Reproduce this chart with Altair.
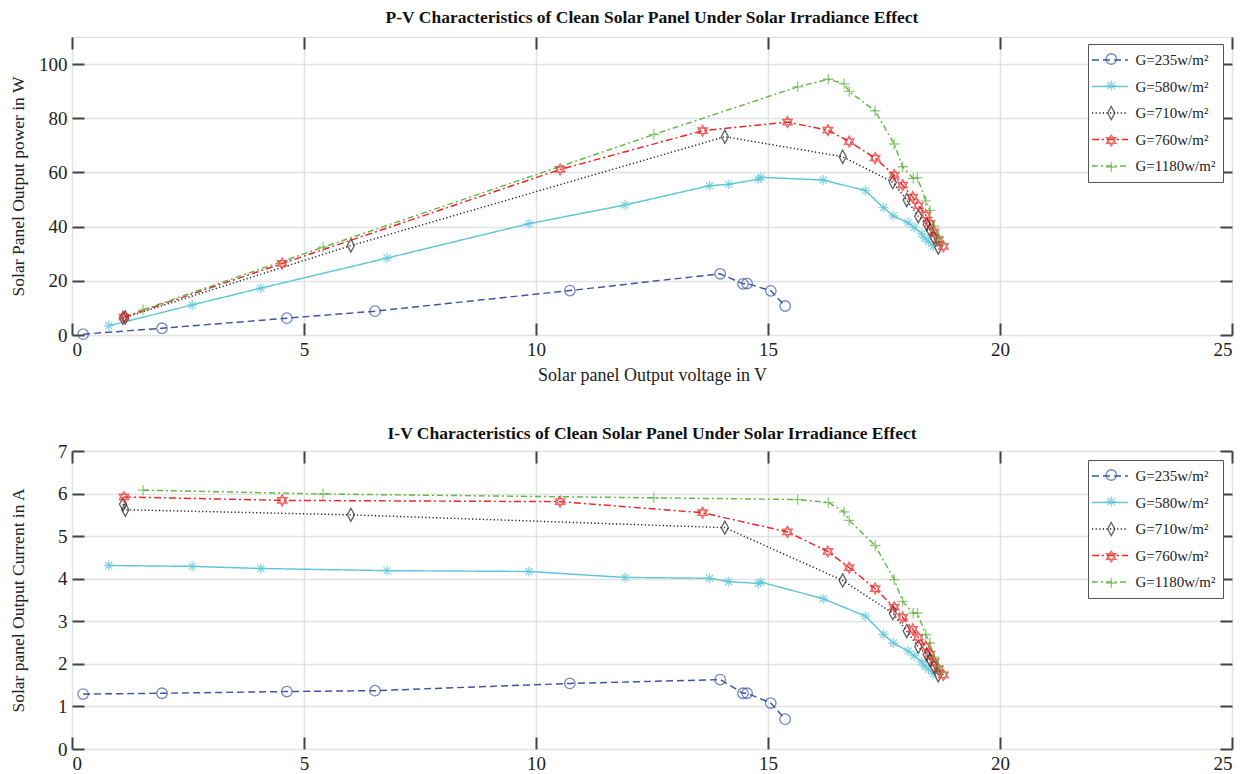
import altair as alt
import pandas as pd

series_names = ["G=235w/m²", "G=580w/m²", "G=710w/m²", "G=760w/m²", "G=1180w/m²"]

v_235 = [0.24, 1.94, 4.63, 6.53, 10.73, 13.97, 14.46, 14.55, 15.06, 15.37]
p_235 = [0.3, 2.5, 6.2, 8.8, 16.4, 22.6, 18.9, 19.0, 16.3, 10.7]
i_235 = [1.29, 1.31, 1.35, 1.37, 1.54, 1.63, 1.31, 1.31, 1.08, 0.70]

v_580 = [0.79, 2.59, 4.07, 6.79, 9.85, 11.92, 13.74, 14.15, 14.79, 14.85, 16.19, 17.10,
         17.49, 17.70, 18.02, 18.15, 18.31, 18.38, 18.46, 18.56]
p_580 = [3.4, 11.1, 17.3, 28.4, 41.1, 48.0, 55.1, 55.6, 57.5, 58.2, 57.2, 53.3,
         47.0, 44.0, 41.4, 39.7, 37.5, 35.8, 34.5, 32.8]
i_580 = [4.31, 4.29, 4.24, 4.19, 4.17, 4.03, 4.01, 3.93, 3.89, 3.92, 3.53, 3.12,
         2.69, 2.49, 2.30, 2.19, 2.05, 1.95, 1.87, 1.77]

v_710 = [1.10, 1.15, 6.01, 14.07, 16.61, 17.69, 17.99, 18.24, 18.42, 18.49, 18.58, 18.67]
p_710 = [6.3, 6.5, 33.0, 73.2, 65.8, 56.4, 49.8, 43.8, 40.9, 38.8, 35.9, 32.3]
i_710 = [5.75, 5.62, 5.50, 5.20, 3.96, 3.19, 2.77, 2.40, 2.22, 2.10, 1.93, 1.73]

v_760 = [1.12, 4.53, 10.52, 13.59, 15.42, 16.29, 16.75, 17.31, 17.72, 17.90, 18.12,
         18.24, 18.40, 18.49, 18.58, 18.67, 18.78]
p_760 = [6.6, 26.4, 61.1, 75.4, 78.6, 75.6, 71.4, 65.3, 59.0, 55.3, 50.9,
         47.8, 44.3, 41.2, 38.1, 35.1, 32.7]
i_760 = [5.92, 5.84, 5.81, 5.55, 5.10, 4.64, 4.26, 3.77, 3.33, 3.09, 2.81,
         2.62, 2.41, 2.23, 2.05, 1.88, 1.74]

v_1180 = [1.53, 5.41, 12.54, 15.64, 16.30, 16.64, 16.75, 17.31, 17.72, 17.90, 18.13,
          18.22, 18.40, 18.49, 18.58, 18.67, 18.74]
p_1180 = [9.3, 32.4, 74.0, 91.6, 94.4, 92.7, 89.9, 82.7, 70.5, 62.1, 57.8,
          58.1, 49.5, 46.0, 40.1, 36.4, 33.7]
i_1180 = [6.08, 5.99, 5.90, 5.86, 5.79, 5.57, 5.37, 4.78, 3.98, 3.47, 3.19,
          3.19, 2.69, 2.49, 2.16, 1.95, 1.80]

x_ticks = [0, 5, 10, 15, 20, 25]
p_ticks = [0, 20, 40, 60, 80, 100]
i_ticks = [0, 1, 2, 3, 4, 5, 6, 7]

colors = ["#3b55a6", "#5fc6d9", "#1e1e1e", "#ec2626", "#63b947"]
dashes = [[7, 4], [1, 0], [1.2, 2.4], [7, 3, 2, 3], [6, 3, 2, 3]]
shapes = [
    "M1,0A1,1,0,1,1,-1,0A1,1,0,1,1,1,0Z",
    "M-0.95,0L0.95,0M0,-0.95L0,0.95M-0.67,-0.67L0.67,0.67M-0.67,0.67L0.67,-0.67",
    "M0,-1.25L0.68,0L0,1.25L-0.68,0Z",
    "M0,-1.05L0.91,0.52L-0.91,0.52ZM0,1.05L0.91,-0.52L-0.91,-0.52Z",
    "M-1,0L1,0M0,-1L0,1",
]

rows = []
for name, V, P, I in zip(series_names,
                         [v_235, v_580, v_710, v_760, v_1180],
                         [p_235, p_580, p_710, p_760, p_1180],
                         [i_235, i_580, i_710, i_760, i_1180]):
    for k, (v, p, i) in enumerate(zip(V, P, I)):
        rows.append({"series": name, "V": v, "P": p, "I": i, "k": k})
df = pd.DataFrame(rows)

FONT = "Liberation Serif"
AX = "#444444"
LEG_X = 1016
LEG_PAD = 7.5
LEG_ROWPAD = 9.5
LEG_FS = 15


def panel(ycol, ydomain, yvals, ytitle, xtitle, title, title_offset, leg_y):
    xs = alt.Scale(domain=[0, 25], nice=False, zero=False)
    ys = alt.Scale(domain=ydomain, nice=False, zero=False)
    base = alt.Chart(df)

    main_x_axis = alt.Axis(orient="bottom", values=x_ticks, grid=True, ticks=False, domain=False,
                           labelPadding=5, title=xtitle, titlePadding=7,
                           labelFontSize=19, titleFontSize=18, labelColor="#222", titleColor="#222",
                           labelFont=FONT, titleFont=FONT, titleFontWeight="normal",
                           gridColor="#e2e2e2", gridWidth=1.5)
    main_y_axis = alt.Axis(orient="left", values=yvals, grid=True, ticks=False, domain=False,
                           labelPadding=5, title=ytitle, titleX=-45,
                           labelFontSize=19, titleFontSize=17.5, labelColor="#222", titleColor="#222",
                           labelFont=FONT, titleFont=FONT, titleFontWeight="normal",
                           gridColor="#e2e2e2", gridWidth=1.5)

    leg_a = alt.Legend(orient="none", legendX=LEG_X, legendY=leg_y, title=None,
                       symbolType="M-2.4,0L2.4,0", symbolSize=225, symbolStrokeWidth=1.5,
                       symbolOffset=6,
                       labelFont=FONT, labelFontSize=LEG_FS, labelColor="#222",
                       labelOffset=17, rowPadding=LEG_ROWPAD, padding=LEG_PAD,
                       strokeColor="#555", fillColor="white", cornerRadius=0)
    lines = base.mark_line(strokeWidth=1.45).encode(
        x=alt.X("V:Q", scale=xs, axis=main_x_axis),
        y=alt.Y(f"{ycol}:Q", scale=ys, axis=main_y_axis),
        color=alt.Color("series:N", scale=alt.Scale(domain=series_names, range=colors), legend=leg_a),
        strokeDash=alt.StrokeDash("series:N", scale=alt.Scale(domain=series_names, range=dashes),
                                  legend=leg_a),
        order="k:Q",
    )

    tick_x_axis = alt.Axis(orient="bottom", offset=-12, values=x_ticks, tickSize=12, tickWidth=2,
                           tickColor=AX, labels=False, domain=False, grid=False, title=None)
    tick_y_axis = alt.Axis(orient="left", offset=-12, values=yvals, tickSize=12, tickWidth=2,
                           tickColor=AX, labels=False, domain=False, grid=False, title=None)

    leg_b = alt.Legend(orient="none", legendX=LEG_X, legendY=leg_y, title=None,
                       symbolSize=110, symbolStrokeWidth=1.3, symbolOffset=8.25,
                       labelFont=FONT, labelFontSize=LEG_FS, labelOpacity=0, labelExpr="' '",
                       labelOffset=5, rowPadding=LEG_ROWPAD, padding=LEG_PAD)
    points = base.mark_point(filled=False, size=110, strokeWidth=1.3).encode(
        x=alt.X("V:Q", scale=xs, axis=tick_x_axis),
        y=alt.Y(f"{ycol}:Q", scale=ys, axis=tick_y_axis),
        color=alt.Color("series:N", scale=alt.Scale(domain=series_names, range=colors), legend=leg_b),
        shape=alt.Shape("series:N", scale=alt.Scale(domain=series_names, range=shapes), legend=leg_b),
    )

    top_x_axis = alt.Axis(orient="top", offset=-12, values=x_ticks, tickSize=12, tickWidth=2,
                          tickColor=AX, labels=False, domain=False, grid=False, title=None)
    right_y_axis = alt.Axis(orient="right", offset=-12, values=yvals, tickSize=12, tickWidth=2,
                            tickColor=AX, labels=False, domain=False, grid=False, title=None)
    frame = base.mark_point(opacity=0).encode(
        x=alt.X("V:Q", scale=xs, axis=top_x_axis),
        y=alt.Y(f"{ycol}:Q", scale=ys, axis=right_y_axis),
    )

    return alt.layer(lines, points, frame).resolve_scale(
        color="independent", shape="independent", strokeDash="independent"
    ).resolve_axis(x="independent", y="independent").properties(
        width=1160, height=298,
        title=alt.TitleParams(title, font=FONT, fontSize=17.5, fontWeight="bold", color="#111",
                              anchor="middle", offset=title_offset, frame="group"),
    )


top = panel("P", [0, 110], p_ticks, "Solar Panel Output power in W",
            "Solar panel Output voltage in V",
            "P-V Characteristics of Clean Solar Panel Under Solar Irradiance Effect", 10, 7)
bottom = panel("I", [0, 7], i_ticks, "Solar panel Output Current in A", None,
               "I-V Characteristics of Clean Solar Panel Under Solar Irradiance Effect", 0, 9)

chart = alt.vconcat(top, bottom, spacing=39).properties(padding=0).configure_view(
    stroke=AX, strokeWidth=2
).configure(background="white")

chart.save("out.html", embed_options={"renderer": "svg", "actions": False})
